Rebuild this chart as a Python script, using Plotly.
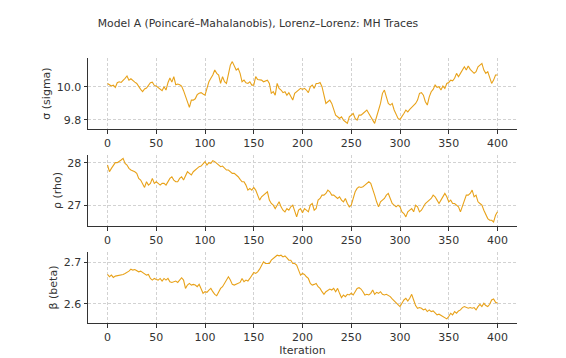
import plotly.graph_objects as go
from plotly.subplots import make_subplots

title_text = "Model A (Poincaré–Mahalanobis), Lorenz–Lorenz: MH Traces"
param_labels = ["σ (sigma)", "ρ (rho)", "β (beta)"]
x_label = "Iteration"
x_ticks = [0, 50, 100, 150, 200, 250, 300, 350, 400]
step = 2  # samples read every 2 iterations

sigma = [10.020, 10.014, 10.004, 10.010, 9.996, 10.024, 10.030, 10.026, 10.036, 10.051,
         10.065, 10.040, 10.048, 10.036, 10.028, 10.020, 10.000, 9.984, 9.970, 9.986,
         9.992, 10.012, 10.024, 10.028, 10.008, 10.004, 9.996, 9.984, 9.976, 10.000,
         9.980, 10.024, 10.053, 10.028, 10.061, 10.012, 10.016, 10.012, 10.004, 9.976,
         9.943, 9.909, 9.875, 9.919, 9.919, 9.927, 9.952, 9.960, 9.964, 9.956,
         9.949, 9.990, 10.030, 10.051, 10.071, 10.101, 10.081, 10.071, 10.020, 10.061,
         10.030, 10.020, 10.071, 10.131, 10.152, 10.121, 10.101, 10.111, 10.081, 10.030,
         10.040, 10.024, 10.020, 10.030, 10.010, 10.010, 10.061, 10.044, 10.040, 10.040,
         10.030, 10.036, 10.040, 10.020, 9.960, 9.970, 9.949, 10.020, 9.990, 9.980,
         9.964, 9.970, 9.949, 9.964, 9.939, 9.919, 9.960, 9.970, 9.984, 9.990,
         9.984, 9.990, 9.980, 9.964, 10.000, 10.010, 9.990, 10.020, 10.020, 10.026,
         10.000, 9.939, 9.899, 9.909, 9.919, 9.899, 9.869, 9.828, 9.818, 9.808,
         9.818, 9.798, 9.788, 9.778, 9.818, 9.828, 9.838, 9.808, 9.798, 9.828,
         9.828, 9.838, 9.848, 9.859, 9.838, 9.818, 9.798, 9.778, 9.818, 9.859,
         9.899, 9.960, 9.980, 9.939, 9.899, 9.889, 9.899, 9.859, 9.828, 9.808,
         9.802, 9.818, 9.838, 9.859, 9.848, 9.863, 9.875, 9.889, 9.899, 9.919,
         9.960, 9.964, 9.949, 9.909, 9.889, 9.939, 9.970, 9.984, 10.010, 9.996,
         10.000, 9.980, 10.004, 9.990, 10.020, 10.026, 10.040, 10.036, 10.051, 10.081,
         10.061, 10.081, 10.101, 10.121, 10.101, 10.125, 10.105, 10.091, 10.081, 10.091,
         10.121, 10.131, 10.141, 10.101, 10.081, 10.091, 10.051, 10.020, 10.040, 10.071,
         10.071]

rho = [27.945, 27.787, 27.866, 27.945, 28.000, 28.000, 28.024, 28.063, 28.102, 27.984,
       27.945, 27.866, 27.827, 27.811, 27.787, 27.748, 27.630, 27.591, 27.512, 27.417,
       27.551, 27.472, 27.512, 27.630, 27.512, 27.551, 27.512, 27.472, 27.512, 27.512,
       27.472, 27.551, 27.630, 27.669, 27.591, 27.551, 27.551, 27.630, 27.669, 27.591,
       27.709, 27.787, 27.748, 27.709, 27.787, 27.827, 27.866, 27.906, 27.921, 27.984,
       28.024, 27.945, 28.000, 27.984, 28.047, 28.024, 27.984, 27.945, 27.906, 27.921,
       27.866, 27.827, 27.827, 27.787, 27.748, 27.748, 27.709, 27.669, 27.606, 27.551,
       27.551, 27.472, 27.354, 27.394, 27.354, 27.417, 27.354, 27.236, 27.118, 27.197,
       27.236, 27.276, 27.315, 27.118, 27.039, 27.000, 26.921, 27.000, 27.079, 26.961,
       26.882, 26.843, 26.921, 26.882, 26.961, 27.000, 26.882, 26.724, 26.882, 26.921,
       26.819, 26.921, 26.882, 26.843, 27.000, 27.039, 26.882, 26.921, 27.118, 27.157,
       27.236, 27.236, 27.276, 27.354, 27.315, 27.236, 27.236, 27.197, 27.157, 27.197,
       27.118, 27.079, 27.157, 27.039, 26.961, 27.000, 27.157, 27.315, 27.394, 27.433,
       27.417, 27.433, 27.472, 27.512, 27.551, 27.512, 27.394, 27.236, 27.079, 26.961,
       27.079, 27.118, 27.157, 27.236, 27.276, 27.157, 27.039, 27.000, 26.961, 27.000,
       26.961, 26.843, 26.803, 26.724, 26.843, 26.882, 26.921, 26.843, 27.000, 26.961,
       26.843, 26.882, 26.961, 27.039, 27.079, 27.118, 27.157, 27.236, 27.197, 27.118,
       27.039, 27.118, 27.197, 27.276, 27.197, 27.079, 27.118, 27.039, 27.039, 27.000,
       26.961, 26.843, 26.961, 27.118, 27.236, 27.236, 27.276, 27.354, 27.197, 27.236,
       27.079, 27.039, 27.000, 26.882, 26.764, 26.685, 26.646, 26.646, 26.606, 26.764,
       26.843]

beta = [2.6712, 2.6656, 2.6696, 2.6640, 2.6672, 2.6680, 2.6696, 2.6712, 2.6712, 2.6736,
        2.6760, 2.6792, 2.6840, 2.6816, 2.6832, 2.6800, 2.6776, 2.6792, 2.6760, 2.6712,
        2.6696, 2.6712, 2.6616, 2.6576, 2.6616, 2.6592, 2.6576, 2.6616, 2.6552, 2.6616,
        2.6576, 2.6616, 2.6536, 2.6520, 2.6536, 2.6552, 2.6520, 2.6576, 2.6632, 2.6576,
        2.6376, 2.6456, 2.6496, 2.6456, 2.6472, 2.6456, 2.6416, 2.6472, 2.6376, 2.6256,
        2.6296, 2.6280, 2.6336, 2.6376, 2.6296, 2.6232, 2.6200, 2.6296, 2.6376, 2.6416,
        2.6496, 2.6576, 2.6656, 2.6576, 2.6472, 2.6456, 2.6472, 2.6496, 2.6520, 2.6616,
        2.6536, 2.6576, 2.6552, 2.6616, 2.6696, 2.6760, 2.6736, 2.6776, 2.6840, 2.6936,
        2.7016, 2.6976, 2.6976, 2.6976, 2.7056, 2.7096, 2.7136, 2.7176, 2.7160, 2.7176,
        2.7136, 2.7160, 2.7112, 2.7056, 2.7056, 2.6976, 2.6976, 2.6936, 2.6816, 2.6696,
        2.6736, 2.6712, 2.6656, 2.6616, 2.6496, 2.6456, 2.6472, 2.6496, 2.6416, 2.6376,
        2.6296, 2.6232, 2.6296, 2.6336, 2.6360, 2.6336, 2.6376, 2.6296, 2.6376, 2.6256,
        2.6152, 2.6216, 2.6176, 2.6232, 2.6216, 2.6256, 2.6216, 2.6296, 2.6376, 2.6392,
        2.6360, 2.6296, 2.6216, 2.6232, 2.6216, 2.6256, 2.6336, 2.6232, 2.6280, 2.6256,
        2.6296, 2.6232, 2.6216, 2.6232, 2.6200, 2.6176, 2.6120, 2.6072, 2.6016, 2.5960,
        2.5936, 2.6016, 2.6096, 2.6136, 2.6072, 2.6136, 2.6232, 2.6096, 2.5960, 2.5896,
        2.5912, 2.5896, 2.5856, 2.5880, 2.5816, 2.5856, 2.5816, 2.5832, 2.5776, 2.5736,
        2.5752, 2.5720, 2.5696, 2.5656, 2.5640, 2.5696, 2.5776, 2.5736, 2.5816, 2.5776,
        2.5832, 2.5856, 2.5912, 2.5936, 2.5912, 2.5896, 2.5912, 2.5896, 2.5912, 2.5856,
        2.5936, 2.5992, 2.5936, 2.6016, 2.5960, 2.5936, 2.5992, 2.6096, 2.6120, 2.6040,
        2.6016]

series = [sigma, rho, beta]
y_ranges = [[9.744, 10.174], [26.51, 28.18], [2.554, 2.7254]]
y_ticks = [[9.8, 10.0], [27, 28], [2.6, 2.7]]
y_fmt = [".1f", "d", ".1f"]
line_color = "#E8A21A"

# the page body has an 8px default margin, so the figure is drawn 8px smaller
OFF = 8
W, H = 566 - OFF, 358 - OFF
L, R, T, B = 88 - OFF, 517 - OFF, 58 - OFF, 323 - OFF
panels_px = [(58 - OFF, 129 - OFF), (155 - OFF, 226 - OFF), (252 - OFF, 323 - OFF)]
ph = B - T

fig = make_subplots(rows=3, cols=1, shared_xaxes=False)

for i, vals in enumerate(series):
    xs = list(range(0, step * len(vals), step))
    fig.add_trace(go.Scatter(x=xs, y=vals, mode="lines",
                             line=dict(color=line_color, width=1.1),
                             showlegend=False, hoverinfo="skip"),
                  row=i + 1, col=1)

grid_kw = dict(showgrid=True, gridcolor="#d2d2d2", griddash="3px,2px", gridwidth=0.8)
line_kw = dict(showline=True, linecolor="#333333", linewidth=1,
               ticks="outside", ticklen=3.5, tickcolor="#333333", tickwidth=0.8,
               tickfont=dict(size=11, color="#333333"), zeroline=False, automargin=False)

for i in range(3):
    top, bot = panels_px[i]
    dom = [1 - (bot - T) / ph, 1 - (top - T) / ph]
    ax = "" if i == 0 else str(i + 1)
    fig.layout["yaxis" + ax].update(
        domain=dom, range=y_ranges[i], tickvals=y_ticks[i], tickformat=y_fmt[i],
        title=dict(text=param_labels[i], font=dict(size=11, color="#333333"), standoff=3),
        **grid_kw, **line_kw,
    )
    fig.layout["xaxis" + ax].update(range=[-20, 420], tickvals=x_ticks, **grid_kw, **line_kw)

fig.layout["xaxis3"].update(title=dict(text=x_label, font=dict(size=11, color="#333333"), standoff=1))

fig.update_layout(
    width=W, height=H,
    margin=dict(l=L, r=W - R, t=T, b=H - B, pad=0, autoexpand=False),
    plot_bgcolor="white", paper_bgcolor="white",
    font=dict(family="DejaVu Sans", color="#333333"),
    title=dict(text=title_text, xref="container", x=(258 - OFF) / W, xanchor="center",
               yref="container", y=1 - (23 - OFF) / H, yanchor="middle", automargin=False,
               font=dict(size=10.8, color="#333333")),
)

fig.write_html("out.html")
